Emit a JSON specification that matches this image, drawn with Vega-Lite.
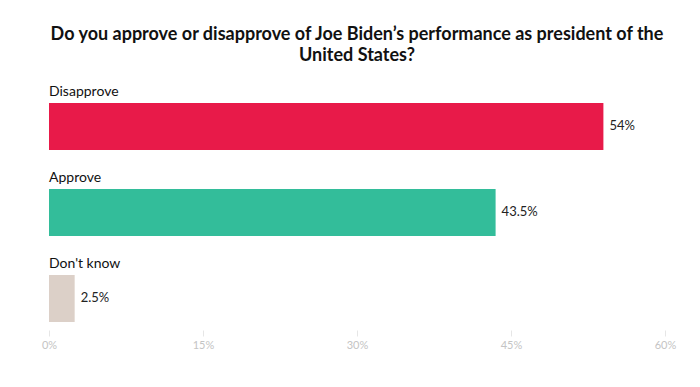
{
  "$schema": "https://vega.github.io/schema/vega-lite/v6.json",
  "width": 616,
  "height": 250,
  "autosize": {"type": "none"},
  "padding": {"left": 49, "top": 80, "right": 35, "bottom": 57},
  "background": "white",
  "config": {"view": {"stroke": null}, "font": "Lato"},
  "title": {
    "text": ["Do you approve or disapprove of Joe Biden’s performance as president of the", "United States?"],
    "font": "Lato",
    "fontSize": 18,
    "fontWeight": "bold",
    "color": "#111111",
    "anchor": "middle",
    "offset": 15,
    "lineHeight": 21
  },
  "data": {
    "values": [
      {"answer": "Disapprove", "pct": 54, "label": "54%"},
      {"answer": "Approve", "pct": 43.5, "label": "43.5%"},
      {"answer": "Don't know", "pct": 2.5, "label": "2.5%"}
    ]
  },
  "encoding": {
    "y": {
      "field": "answer",
      "type": "nominal",
      "sort": ["Disapprove", "Approve", "Don't know"],
      "axis": null,
      "scale": {"paddingInner": 0.4535, "paddingOuter": 0.18, "align": 0.74}
    }
  },
  "layer": [
    {
      "mark": {"type": "bar"},
      "encoding": {
        "x": {
          "field": "pct",
          "type": "quantitative",
          "scale": {"domain": [0, 60]},
          "axis": {
            "values": [0, 15, 30, 45, 60],
            "labelExpr": "datum.value + '%'",
            "title": null,
            "grid": false,
            "domain": false,
            "ticks": true,
            "tickSize": 6,
            "tickColor": "#e6e6e6",
            "labelColor": "#c4c4c4",
            "labelFontSize": 11,
            "labelFont": "Lato",
            "labelPadding": 3,
            "labelFlush": false
          }
        },
        "color": {
          "field": "answer",
          "type": "nominal",
          "scale": {"domain": ["Disapprove", "Approve", "Don't know"], "range": ["#E81A49", "#33BD9A", "#DCD0C8"]},
          "legend": null
        }
      }
    },
    {
      "mark": {"type": "text", "align": "left", "baseline": "middle", "dx": 6, "fontSize": 13, "font": "Lato", "color": "#222222"},
      "encoding": {
        "x": {"field": "pct", "type": "quantitative"},
        "text": {"field": "label"}
      }
    },
    {
      "mark": {"type": "text", "align": "left", "baseline": "middle", "dy": -34, "fontSize": 14, "font": "Lato", "color": "#111111"},
      "encoding": {
        "x": {"datum": 0, "type": "quantitative"},
        "text": {"field": "answer"}
      }
    }
  ]
}
